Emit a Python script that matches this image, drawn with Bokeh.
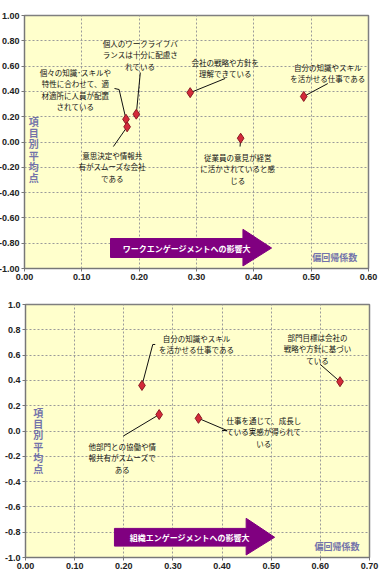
from bokeh.plotting import figure
from bokeh.layouts import column
from bokeh.models import Label, FixedTicker, NumeralTickFormatter, Range1d
from bokeh.core.properties import value
from bokeh.embed import file_html
from bokeh.resources import INLINE

# ---------------- data ----------------
# Chart 1: work engagement
we_items = [
    ["個人のワークライフバ", "ランスは十分に配慮さ", "れている"],
    ["個々の知識･スキルや", "特性に合わせて、適", "材適所に人員が配置", "されている"],
    ["意思決定や情報共", "有がスムーズな会社", "である"],
    ["会社の戦略や方針を", "理解できている"],
    ["自分の知識やスキル", "を活かせる仕事である"],
    ["従業員の意見が経営", "に活かされていると感", "じる"],
]
we_coef = [0.195, 0.177, 0.179, 0.289, 0.487, 0.377]
we_score = [0.22, 0.18, 0.12, 0.39, 0.36, 0.03]

# Chart 2: organisational engagement
oe_items = [
    ["自分の知識やスキル", "を活かせる仕事である"],
    ["他部門との協働や情", "報共有がスムーズで", "ある"],
    ["仕事を通じて、成長し", "ている実感が得られて", "いる"],
    ["部門目標は会社の", "戦略や方針に基づい", "ている"],
]
oe_coef = [0.237, 0.272, 0.352, 0.640]
oe_score = [0.36, 0.13, 0.10, 0.39]

y_ticks = [-1.0, -0.8, -0.6, -0.4, -0.2, 0.0, 0.2, 0.4, 0.6, 0.8, 1.0]
x_ticks1 = [0.0, 0.1, 0.2, 0.3, 0.4, 0.5, 0.6]
x_ticks2 = [0.0, 0.1, 0.2, 0.3, 0.4, 0.5, 0.6, 0.7]

arrow_text1 = "ワークエンゲージメントへの影響大"
arrow_text2 = "組織エンゲージメントへの影響大"
x_title = "偏回帰係数"
y_title = "項目別平均点"
unit = "%"

# ---------------- layout (label anchors / leaders, data units) ----------------
# label centre x, first-line centre y
we_lab = [(0.202, 0.779), (0.0887, 0.549), (0.153, -0.107), (0.350, 0.628), (0.529, 0.589), (0.372, -0.123)]
we_lead = [
    [(0.202, 0.549)],
    [(0.157, 0.423), (0.165, 0.415)],
    [(0.155, -0.036)],
    [(0.350, 0.502)],
    [(0.529, 0.462)],
    [(0.376, -0.036)],
]
oe_lab = [(0.348, 0.731), (0.197, -0.123), (0.485, 0.083), (0.594, 0.739)]
oe_lead = [
    [(0.264, 0.684), (0.259, 0.684)],
    [(0.199, -0.040)],
    [(0.400, 0.004), (0.410, 0.004)],
    [(0.600, 0.526)],
]

FONT_JP = "Noto Sans CJK JP"
FONT_NUM = "Liberation Sans"
BG = "#FFFFCC"
PURPLE = "#800080"
SLATE = "#7373AA"
PX_PER_UNIT_Y = 126.5


def make_fig(width, height, top, bottom, left, right, xmax, xticks, yfmt, shift):
    p = figure(width=width, height=height, output_backend="svg", toolbar_location=None,
               x_range=Range1d(0, xmax), y_range=Range1d(-1, 1),
               min_border_top=top, min_border_bottom=bottom,
               min_border_left=left, min_border_right=right,
               margin=(0, 0, 0, -shift))
    p.background_fill_color = BG
    p.border_fill_color = "white"
    p.outline_line_color = "#7f7f7f"
    p.outline_line_width = 1.5
    p.xaxis.ticker = FixedTicker(ticks=xticks)
    p.yaxis.ticker = FixedTicker(ticks=y_ticks)
    p.xaxis.formatter = NumeralTickFormatter(format="0.00")
    p.yaxis.formatter = NumeralTickFormatter(format=yfmt)
    for ax in (p.xaxis, p.yaxis):
        ax.major_label_text_font = FONT_NUM
        ax.major_label_text_font_size = "9px"
        ax.major_label_text_font_style = "bold"
        ax.major_label_text_color = "#222222"
        ax.axis_line_color = "#777777"
        ax.major_tick_line_color = "#777777"
        ax.major_tick_out = 3
        ax.major_tick_in = 0
        ax.minor_tick_line_color = None
        ax.major_label_standoff = 2
    for g in (p.xgrid, p.ygrid):
        g.grid_line_color = "#9a9a9a"
        g.grid_line_dash = "2 2"
        g.grid_line_width = 1
    return p


def decorate(p, xs, ys, items, labs, leads, arrow, atext, atext_x, xt_x, vt_x, vt_y0):
    # leaders
    for x, y, lead in zip(xs, ys, leads):
        pts = lead + [(x, y)]
        p.line([q[0] for q in pts], [q[1] for q in pts], line_color="#111111", line_width=1)
    # points
    p.scatter(xs, ys, marker="diamond", size=10, fill_color="#D42A3A",
              line_color="#8A1A22", line_width=1)
    # annotation texts
    tx, ty, tt = [], [], []
    for lines, (cx, cy) in zip(items, labs):
        for k, ln in enumerate(lines):
            tx.append(cx)
            ty.append(cy - k * 11.3 / PX_PER_UNIT_Y)
            tt.append(ln)
    p.text(tx, ty, text=tt, text_font=value(FONT_JP), text_font_size="7.5px",
           text_align="center", text_baseline="middle", text_color="#111111")
    # arrow
    x0, x1, x2, yb0, yb1, yh0, yh1 = arrow
    ym = (yb0 + yb1) / 2
    p.patch([x0, x1, x1, x2, x1, x1, x0], [yb0, yb0, yh0, ym, yh1, yb1, yb1],
            fill_color=PURPLE, line_color=PURPLE)
    p.text([atext_x], [ym], text=[atext], text_font=value(FONT_JP), text_font_size="8px",
           text_font_style="bold", text_color="white", text_align="center", text_baseline="middle")
    # x title
    p.text([xt_x], [-0.913], text=[x_title], text_font=value(FONT_JP), text_font_size="9px",
           text_font_style="bold", text_color=SLATE, text_align="center", text_baseline="middle")
    # vertical y title
    vy = [vt_y0 - k * 11.2 / PX_PER_UNIT_Y for k in range(len(y_title))]
    p.text([vt_x] * len(y_title), vy, text=list(y_title), text_font=value(FONT_JP),
           text_font_size="10px", text_font_style="bold", text_color=SLATE,
           text_align="center", text_baseline="middle")
    # unit
    p.add_layout(Label(x=0, y=1, x_offset=0, y_offset=2, text=unit, text_font=FONT_NUM,
                       text_font_size="9px", text_font_style="bold", text_color="#222222",
                       text_baseline="bottom", text_align="left"))


p1 = make_fig(393, 290, 15, 22, 29, 14, 0.6, x_ticks1, "0.00", 5)
decorate(p1, we_coef, we_score, we_items, we_lab, we_lead,
         (0.15, 0.381, 0.431, -0.763, -0.913, -0.69, -0.98), arrow_text1, 0.283,
         0.541, 0.016, 0.162)

p2 = make_fig(392, 288, 14, 21, 25, 15, 0.7, x_ticks2, "0.0", 4)
decorate(p2, oe_coef, oe_score, oe_items, oe_lab, oe_lead,
         (0.181, 0.449, 0.507, -0.77, -0.91, -0.69, -0.98), arrow_text2, 0.334,
         0.634, 0.026, 0.146)

layout = column(p1, p2, spacing=0)
open("out.html", "w").write(file_html(layout, INLINE))
